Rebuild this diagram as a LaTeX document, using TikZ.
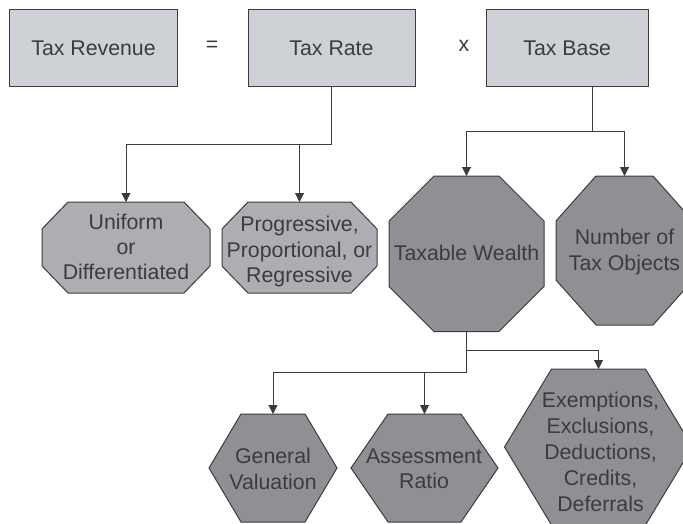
\documentclass[tikz,border=0pt]{standalone}
\usepackage{fontspec}
\setmainfont{Liberation Sans}
\usetikzlibrary{arrows.meta}
\definecolor{ink}{HTML}{3C3C3E}
\definecolor{boxfill}{HTML}{CED1D5}
\definecolor{lightfill}{HTML}{ADAEB3}
\definecolor{darkfill}{HTML}{8E9094}
\tikzset{
  outline/.style={draw=ink,line width=1pt,line join=miter},
  label text/.style={text=ink,align=center,inner sep=0pt,font=\fontsize{21.3}{25.3}\selectfont},
  anchorbox/.style={inner sep=0pt,outer sep=0pt},
  link/.style={draw=ink,line width=1pt},
  arrowlink/.style={link,-{Triangle[width=9pt,length=9pt]}}
}
% name, left, right, top, bottom, chamfer x, chamfer y, fill
\newcommand{\octashape}[8]{%
  \path[outline,fill=#8] (#2+#6,#4) -- (#3-#6,#4) -- (#3,#4+#7) -- (#3,#5-#7) -- (#3-#6,#5) -- (#2+#6,#5) -- (#2,#5-#7) -- (#2,#4+#7) -- cycle;
  \node[anchorbox,minimum width={(#3-#2)*1pt},minimum height={(#5-#4)*1pt}] (#1) at ({(#2+#3)/2},{(#4+#5)/2}) {};
}
% name, left, right, top, bottom, chamfer x, fill
\newcommand{\hexashape}[7]{%
  \path[outline,fill=#7] (#2+#6,#4) -- (#3-#6,#4) -- (#3,{(#4+#5)/2}) -- (#3-#6,#5) -- (#2+#6,#5) -- (#2,{(#4+#5)/2}) -- cycle;
  \node[anchorbox,minimum width={(#3-#2)*1pt},minimum height={(#5-#4)*1pt}] (#1) at ({(#2+#3)/2},{(#4+#5)/2}) {};
}
\begin{document}
\begin{tikzpicture}[x=1pt,y=-1pt]
\useasboundingbox (0,0) rectangle (683,523);
\path[fill=white] (0,0) rectangle (683,523);

% top row
\node[outline,fill=boxfill,anchorbox,minimum width=168pt,minimum height=77.5pt] (revenue) at (93.5,48.2) {};
\node[outline,fill=boxfill,anchorbox,minimum width=167pt,minimum height=77.5pt] (rate) at (331.5,48.2) {};
\node[outline,fill=boxfill,anchorbox,minimum width=161.5pt,minimum height=77.5pt] (base) at (567.25,48.2) {};
\node[label text] (revenuet) at (93.5,48) {Tax Revenue};
\node[label text] (ratet) at (331.5,48) {Tax Rate};
\node[label text] (baset) at (567.25,48) {Tax Base};
\node[label text] (equals) at (212,46) {=};
\node[label text] (times) at (464,46) {x};

% second row
\octashape{uniform}{42}{210}{202}{293}{26}{27}{lightfill}
\octashape{progressive}{222}{377}{202}{293}{26}{27}{lightfill}
\octashape{wealth}{389}{544}{176}{331.5}{45}{45}{darkfill}
\octashape{number}{556}{693}{176}{325}{40}{45}{darkfill}
\node[label text] (uniformt) at (126,247) {Uniform\\or\\Differentiated};
\node[label text] (progressivet) at (299.5,251.5) {Progressive,\\Proportional, or\\Regressive};
\node[label text] (wealtht) at (466.5,253) {Taxable Wealth};
\node[label text] (numbert) at (624.5,252) {Number of\\Tax Objects};

% third row
\hexashape{valuation}{209}{337}{414}{522}{32}{darkfill}
\hexashape{ratio}{351}{498}{414}{522}{37}{darkfill}
\hexashape{exemptions}{504.5}{692.5}{369}{525}{47}{darkfill}
\node[label text] (valuationt) at (273,469) {General\\Valuation};
\node[label text] (ratiot) at (424,469) {Assessment\\Ratio};
\node[label text,font=\fontsize{21.3}{26}\selectfont] (exemptionst) at (600.5,452) {Exemptions,\\Exclusions,\\Deductions,\\Credits,\\Deferrals};

% connectors
\coordinate (ratejoin) at (rate.south |- 0,144.7);
\draw[link] (rate.south) -- (ratejoin);
\draw[arrowlink] (ratejoin) -| (uniform.north);
\draw[arrowlink] (ratejoin) -| (progressive.north);

\coordinate (basedrop) at (592,87);
\coordinate (basejoin) at (592,131.7);
\draw[link] (basedrop) -- (basejoin);
\draw[arrowlink] (basejoin) -| (wealth.north);
\draw[arrowlink] (basejoin) -| (number.north);

\coordinate (wealthjoin) at (wealth.south |- 0,350.5);
\coordinate (wealthlow) at (wealth.south |- 0,372.7);
\draw[link] (wealth.south) -- (wealthlow);
\draw[arrowlink] (wealthjoin) -| (exemptions.north);
\draw[arrowlink] (wealthlow) -| (valuation.north);
\draw[arrowlink] (wealthlow) -| (ratio.north);
\end{tikzpicture}
\end{document}
